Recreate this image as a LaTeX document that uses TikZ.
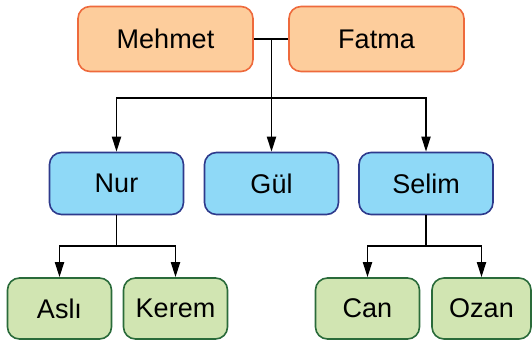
\documentclass[tikz,border=0pt]{standalone}
\usepackage{fontspec}
\setmainfont{Liberation Sans}
\usetikzlibrary{arrows.meta}

\definecolor{parentfill}{HTML}{FDCD9C}
\definecolor{parentline}{HTML}{EE6A3C}
\definecolor{childfill}{HTML}{8FD9F7}
\definecolor{childline}{HTML}{2E3A8C}
\definecolor{grandfill}{HTML}{D1E5B2}
\definecolor{grandline}{HTML}{2A6B3A}

\tikzset{
  person/.style={draw, line width=1.6pt, rounded corners=12pt, inner sep=0pt,
    font=\fontsize{27}{32}\selectfont},
  parent/.style={person, fill=parentfill, draw=parentline,
    minimum width=175pt, minimum height=65pt},
  child/.style={person, fill=childfill, draw=childline,
    minimum width=134pt, minimum height=62pt},
  grand/.style={person, fill=grandfill, draw=grandline,
    minimum width=104pt, minimum height=61pt},
  link/.style={line width=1.8pt},
  tolink/.style={link, -{Triangle[length=15pt, width=9pt]}}
}

\begin{document}
\begin{tikzpicture}[x=1pt, y=-1pt]

\useasboundingbox (0,0) rectangle (532,342);

% parents
\node[parent] (mehmet) at (165.5, 39) {Mehmet};
\node[parent] (fatma) at (376.5, 39) {Fatma};

% children
\node[child] (nur) at (116.5, 183.5) {Nur};
\node[child] (gul) at (271.5, 183.5) {Gül};
\node[child] (selim) at (426, 183.5) {Selim};

% grandchildren
\node[grand] (asli) at (59.5, 308.5) {Aslı};
\node[grand] (kerem) at (175.5, 308.5) {Kerem};
\node[grand] (can) at (367.5, 308.5) {Can};
\node[grand, minimum width=99pt] (ozan) at (481.5, 308.5) {Ozan};

% couple line and bus
\draw[link] (mehmet.east) -- (fatma.west);
\coordinate (couple) at (271.5, 39);
\coordinate (bus) at (271.5, 98);
\draw[link] (couple) -- (bus);
\draw[tolink] (bus) -| (nur.north);
\draw[tolink] (bus) -- (gul.north);
\draw[tolink] (bus) -| (selim.north);

% Nur's children
\coordinate (nurbus) at (116.5, 246);
\draw[link] (nur.south) -- (nurbus);
\draw[tolink] (nurbus) -| (asli.north);
\draw[tolink] (nurbus) -| (kerem.north);

% Selim's children
\coordinate (selimbus) at (426, 246);
\draw[link] (selim.south) -- (selimbus);
\draw[tolink] (selimbus) -| (can.north);
\draw[tolink] (selimbus) -| (ozan.north);

\end{tikzpicture}
\end{document}
